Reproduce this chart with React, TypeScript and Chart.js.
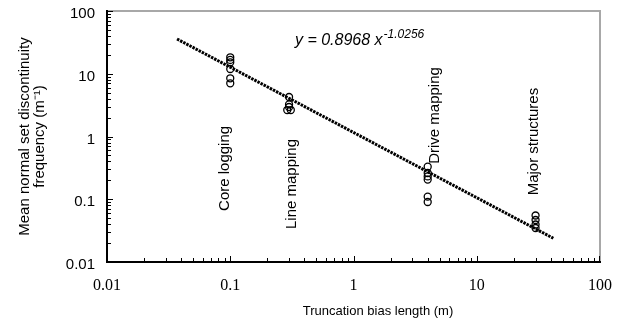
import React, { useEffect, useRef } from 'react';
import { Chart, registerables } from 'chart.js';

Chart.register(...registerables);

// ---- data ----
const coreX = [0.1, 0.1, 0.1, 0.1, 0.1, 0.1];
const coreY = [18.3, 16.6, 15.2, 11.9, 8.46, 7.05];

const lineMapX = [0.3, 0.3, 0.3, 0.29, 0.31];
const lineMapY = [4.26, 3.24, 2.95, 2.64, 2.64];

const driveX = [4, 4, 4, 4, 4, 4];
const driveY = [0.33, 0.262, 0.231, 0.206, 0.11, 0.0904];

const majorX = [30, 30, 30, 30];
const majorY = [0.0551, 0.0467, 0.0396, 0.0348];

// power-law trend line end points (as drawn)
const trendX = [0.037, 41.8];
const trendY = [35.8, 0.0239];

// category annotations
const categories = ['Core logging', 'Line mapping', 'Drive mapping', 'Major structures'];
const categoryAnchorX = [0.0906, 0.317, 4.58, 28.9];
const categoryAnchorY = [0.31, 0.175, 2.16, 0.83];

const equationMain = 'y = 0.8968 x';
const equationExp = '-1.0256';
const equationAnchor = { x: 0.335, y: 28.7 };

// axes
const tickValues = [0.01, 0.1, 1, 10, 100];
const tickLabels = ['0.01', '0.1', '1', '10', '100'];
const minorSteps = [2, 3, 4, 5, 6, 7, 8, 9];

const xTitle = 'Truncation bias length (m)';
const yTitleLines = ['Mean normal set discontinuity', 'frequency (m\u207B\u00B9)'];

const SANS = "'Liberation Sans', Arial, sans-serif";
const SERIF = "'Liberation Serif', 'Times New Roman', serif";

const toPoints = (xs: number[], ys: number[]) => xs.map((x, i) => ({ x, y: ys[i] }));

const buildTicks = (scale: any) => {
  const ticks: any[] = [];
  tickValues.forEach((d, i) => {
    ticks.push({ value: d, major: true });
    if (i < tickValues.length - 1) {
      minorSteps.forEach((m) => ticks.push({ value: d * m, major: false }));
    }
  });
  scale.ticks = ticks;
};

const labelFor = (value: any) => {
  const v = Number(value);
  const i = tickValues.findIndex((t) => Math.abs(t - v) < t * 1e-6);
  return i >= 0 ? tickLabels[i] : '';
};

const decorPlugin = {
  id: 'decor',
  afterDraw(chart: any) {
    const { ctx, chartArea: a, scales } = chart;
    const xs = scales.x;
    const ys = scales.y;
    ctx.save();

    const L = Math.round(a.left);
    const R = Math.round(a.right);
    const T = Math.round(a.top);
    const B = Math.round(a.bottom);

    // gray top / right frame
    ctx.fillStyle = '#a8a8a8';
    ctx.fillRect(L, T - 1, R - L + 1, 2);
    ctx.fillRect(R - 1, T - 1, 2, B - T + 1);

    // black axes
    ctx.fillStyle = '#000';
    ctx.fillRect(L - 1, T - 1, 2, B - T + 2);
    ctx.fillRect(L - 1, B - 1, R - L + 2, 2);

    // inner tick marks
    xs.ticks.forEach((t: any) => {
      const p = Math.round(xs.getPixelForValue(t.value));
      const len = t.major ? 6 : 4;
      ctx.fillRect(Math.min(p, R - 1), B - len, 1, len);
    });
    ys.ticks.forEach((t: any) => {
      const p = Math.round(ys.getPixelForValue(t.value));
      const len = t.major ? 6 : 4;
      ctx.fillRect(L, Math.max(Math.min(p, B - 1), T), len, 1);
    });

    ctx.fillStyle = '#000';
    ctx.textAlign = 'center';
    ctx.textBaseline = 'middle';

    // y title (two rotated lines)
    const cy = (a.top + a.bottom) / 2;
    ctx.font = `15px ${SANS}`;
    yTitleLines.forEach((line, i) => {
      ctx.save();
      ctx.translate(a.left - 82 + i * 15, cy);
      ctx.rotate(-Math.PI / 2);
      ctx.fillText(line, 0, 0);
      ctx.restore();
    });

    // x title
    ctx.font = `13px ${SANS}`;
    ctx.fillText(xTitle, (a.left + a.right) / 2 + 24.5, a.bottom + 49);

    // category labels (rotated)
    ctx.font = `15px ${SANS}`;
    categories.forEach((c, i) => {
      const px = xs.getPixelForValue(categoryAnchorX[i]);
      const py = ys.getPixelForValue(categoryAnchorY[i]);
      ctx.save();
      ctx.translate(px, py);
      ctx.rotate(-Math.PI / 2);
      ctx.fillText(c, 0, 0);
      ctx.restore();
    });

    // equation
    const ex = xs.getPixelForValue(equationAnchor.x);
    const ey = ys.getPixelForValue(equationAnchor.y);
    ctx.textAlign = 'left';
    ctx.textBaseline = 'alphabetic';
    ctx.font = `italic 16px ${SANS}`;
    ctx.fillText(equationMain, ex, ey);
    const w = ctx.measureText(equationMain).width;
    ctx.font = `italic 12px ${SANS}`;
    ctx.fillText(equationExp, ex + w + 1, ey - 7);

    ctx.restore();
  },
};

export default function App() {
  const canvasRef = useRef<HTMLCanvasElement | null>(null);

  useEffect(() => {
    document.body.style.margin = '0';
    const canvas = canvasRef.current;
    if (!canvas) return;

    const pointStyle = {
      type: 'scatter' as const,
      showLine: false,
      pointRadius: 3.5,
      pointHoverRadius: 3.5,
      pointBorderWidth: 1.3,
      pointBackgroundColor: 'rgba(0,0,0,0)',
      pointBorderColor: '#000',
      borderColor: '#000',
      backgroundColor: 'rgba(0,0,0,0)',
    };

    const chart = new Chart(canvas, {
      type: 'scatter',
      data: {
        datasets: [
          {
            label: 'Power trend',
            data: toPoints(trendX, trendY),
            showLine: true,
            borderColor: '#000',
            borderWidth: 3,
            borderDash: [2.5, 1],
            pointRadius: 0,
            pointHoverRadius: 0,
            fill: false,
            order: 2,
          } as any,
          { ...pointStyle, label: categories[0], data: toPoints(coreX, coreY), order: 1 },
          { ...pointStyle, label: categories[1], data: toPoints(lineMapX, lineMapY), order: 1 },
          { ...pointStyle, label: categories[2], data: toPoints(driveX, driveY), order: 1 },
          { ...pointStyle, label: categories[3], data: toPoints(majorX, majorY), order: 1 },
        ],
      },
      options: {
        responsive: false,
        animation: false,
        events: [],
        layout: { padding: { top: 11, right: 23, left: 0, bottom: 0 } },
        plugins: {
          legend: { display: false },
          tooltip: { enabled: false },
          title: { display: false },
        },
        scales: {
          x: {
            type: 'logarithmic',
            min: 0.01,
            max: 100,
            afterBuildTicks: buildTicks,
            afterFit: (s: any) => {
              s.height = 64;
              s.paddingLeft = 0;
              s.paddingRight = 0;
            },
            grid: { display: false, drawTicks: false },
            border: { display: false },
            ticks: {
              autoSkip: false,
              maxRotation: 0,
              minRotation: 0,
              padding: 14,
              color: '#000',
              font: { family: SERIF, size: 16 },
              callback: labelFor,
            },
          },
          y: {
            type: 'logarithmic',
            min: 0.01,
            max: 100,
            afterBuildTicks: buildTicks,
            afterFit: (s: any) => {
              s.width = 107;
              s.paddingTop = 0;
              s.paddingBottom = 0;
            },
            grid: { display: false, drawTicks: false },
            border: { display: false },
            ticks: {
              autoSkip: false,
              padding: 12,
              labelOffset: 3,
              color: '#000',
              font: { family: SANS, size: 15 },
              callback: labelFor,
            },
          },
        },
      },
      plugins: [decorPlugin],
    });

    return () => chart.destroy();
  }, []);

  return (
    <div style={{ width: 623, height: 326 }}>
      <canvas ref={canvasRef} width={623} height={326} style={{ display: 'block' }} />
    </div>
  );
}
